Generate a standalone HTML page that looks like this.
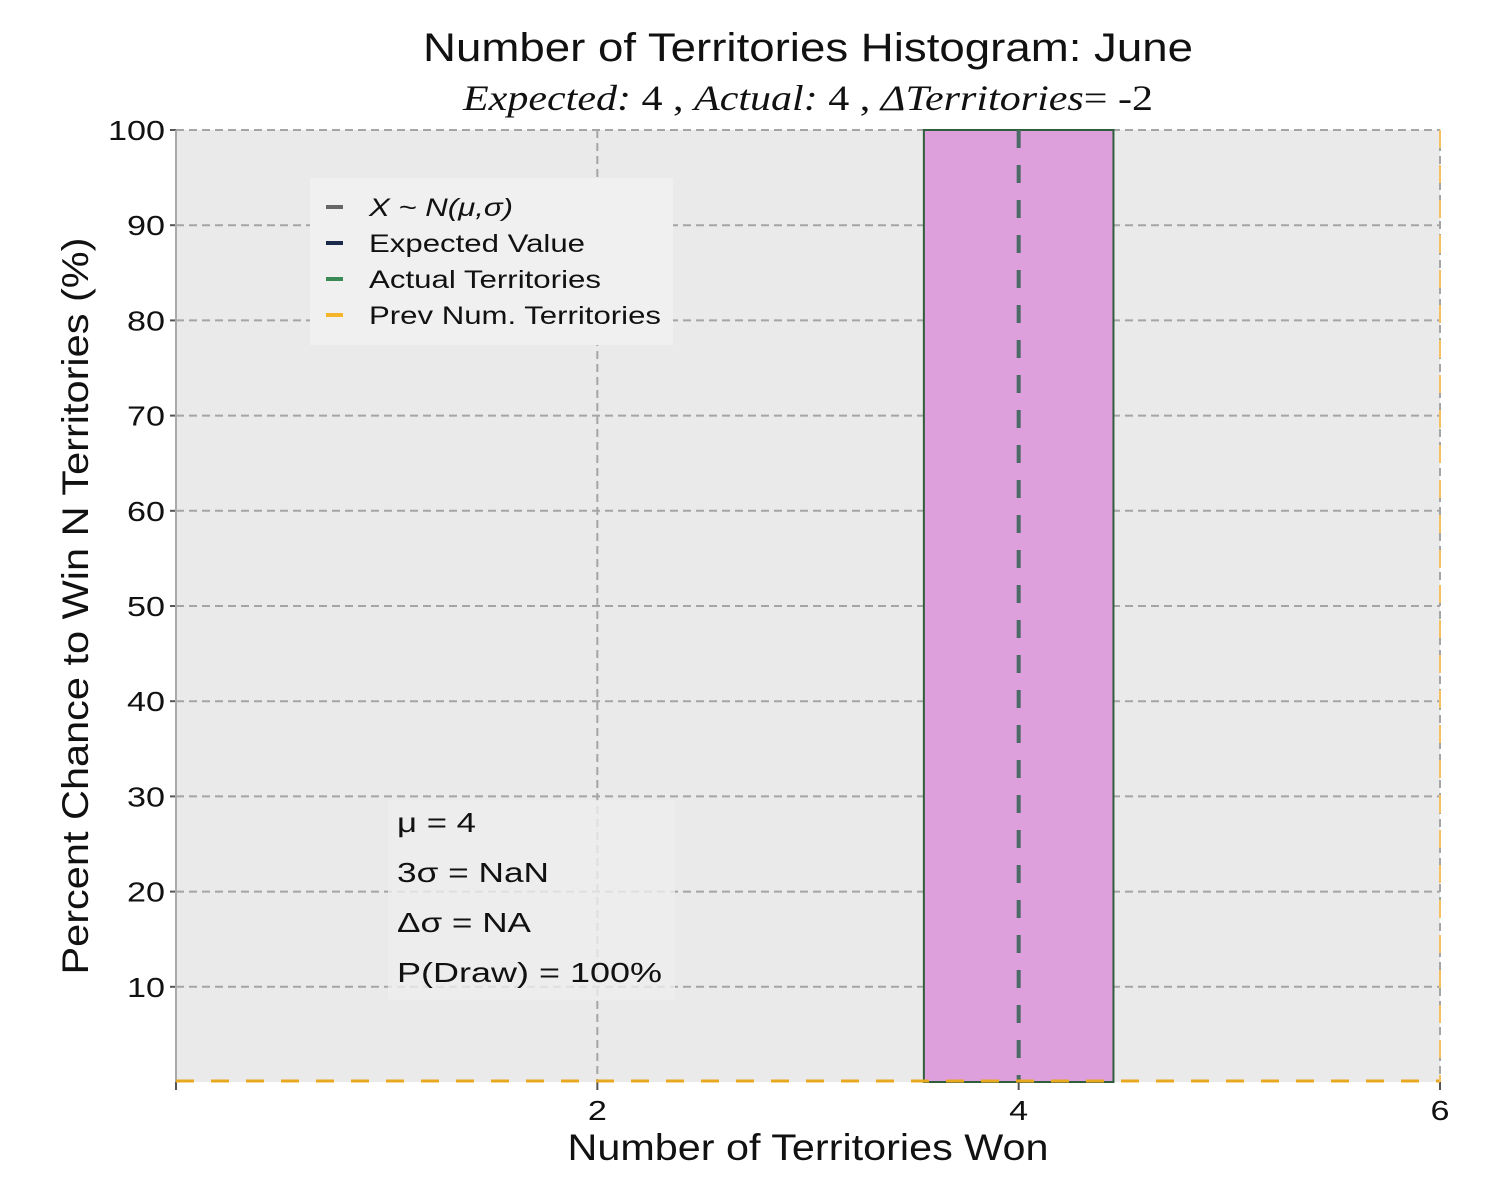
<!DOCTYPE html>
<html><head><meta charset="utf-8"><style>
body{margin:0;background:#fff}
svg{display:block}
text{font-family:"Liberation Sans",sans-serif;fill:#111}
</style></head><body>
<svg id="chart" width="1500" height="1200"></svg>
<script>
const xTicks=[2,4,6];
const yTicks=[10,20,30,40,50,60,70,80,90,100];
const binLefts=[3.55];
const binRights=[4.45];
const binValues=[100];
const expectedValue=[4];
const prevValue=[0];
const legendLabels=["X ~ N(μ,σ)","Expected Value","Actual Territories","Prev Num. Territories"];
const legendColors=["#666666","#1b2a4a","#3a8a55","#f5b52a"];
const statLines=["μ = 4","3σ = NaN","Δσ = NA","P(Draw) = 100%"];

const L=176,R=1440,T=130,B=1082,X0=0,X1=6,Y0=0,Y1=100;
const sx=v=>L+(v-X0)/(X1-X0)*(R-L);
const sy=v=>B-(v-Y0)/(Y1-Y0)*(B-T);
const svg=document.getElementById('chart');
const NS="http://www.w3.org/2000/svg";
function mk(tag,attrs,parent){const e=document.createElementNS(NS,tag);for(const k in attrs)e.setAttribute(k,attrs[k]);(parent||svg).appendChild(e);return e;}

let e=mk('rect',{x:L,y:T,width:R-L,height:B-T,fill:'#eaeaea'});



yTicks.forEach(v=>{
  let g=mk('line',{x1:L,x2:R,y1:sy(v),y2:sy(v),stroke:'#a5a5a5','stroke-width':2,'stroke-dasharray':'8,5'});
  
  
  let t=mk('line',{x1:L-6,x2:L,y1:sy(v),y2:sy(v),stroke:'#555','stroke-width':2});
  
  
  let l=mk('text',{x:L-11,y:sy(v)+10,'text-anchor':'end','font-size':28,textLength:String(v).length*19,lengthAdjust:'spacingAndGlyphs'});
  l.textContent=v;
  
  
});
[0].concat(xTicks).forEach(v=>{
  let g=mk('line',{x1:sx(v),x2:sx(v),y1:T,y2:B,stroke:'#a5a5a5','stroke-width':2,'stroke-dasharray':'8,5'});
  
  
  let t=mk('line',{x1:sx(v),x2:sx(v),y1:B,y2:B+8,stroke:'#555','stroke-width':2});
  
  
});
xTicks.forEach(v=>{
  let l=mk('text',{x:sx(v),y:B+38,'text-anchor':'middle','font-size':28,textLength:String(v).length*19,lengthAdjust:'spacingAndGlyphs'});
  l.textContent=v;
  
  
});

let sb=mk('rect',{x:388,y:800,width:287,height:200,fill:'#eeeeee','fill-opacity':0.8});


const statW=[79,152,134,265];
statLines.forEach((s,i)=>{
  let t=mk('text',{x:397,y:832+i*50,'font-size':28,textLength:statW[i],lengthAdjust:'spacingAndGlyphs'});
  t.textContent=s;
  
  
});

binValues.forEach((v,i)=>{
  let b=mk('rect',{x:sx(binLefts[i]),y:sy(v),width:sx(binRights[i])-sx(binLefts[i]),height:sy(0)-sy(v),fill:'#dda0dd',stroke:'#2e5e3a','stroke-width':2});
  
  
});
expectedValue.forEach(v=>{
  let l=mk('line',{x1:sx(v),x2:sx(v),y1:T,y2:B,stroke:'#4a6a66','stroke-width':4,'stroke-dasharray':'18,17'});
  
  
});
prevValue.forEach(v=>{
  let l=mk('line',{x1:sx(v),x2:sx(v),y1:T,y2:B,stroke:'#aaa','stroke-width':2});
  
  
});
let pb=mk('line',{x1:L,x2:R,y1:B-1,y2:B-1,stroke:'#e8a820','stroke-width':3,'stroke-dasharray':'18,17'});


let pr=mk('line',{x1:R,x2:R,y1:T,y2:B,stroke:'#f5c060','stroke-width':2,'stroke-dasharray':'18,17'});



let lg=mk('rect',{x:310,y:178,width:363,height:167,fill:'#f0f0f0'});


const legW=[144,216,232,292];
legendLabels.forEach((s,i)=>{
  let y=207+i*36;
  let m=mk('line',{x1:326,x2:343,y1:y,y2:y,stroke:legendColors[i],'stroke-width':4});
  
  
  let t=mk('text',{x:369,y:y+9,'font-size':25,textLength:legW[i],lengthAdjust:'spacingAndGlyphs'});
  if(i===0)t.setAttribute('font-style','italic');
  t.textContent=s;
  
  
});

let tt=mk('text',{x:808,y:61,'text-anchor':'middle','font-size':40,textLength:770,lengthAdjust:'spacingAndGlyphs'});
tt.textContent='Number of Territories Histogram: June';


let st=mk('text',{x:808,y:110,'text-anchor':'middle','font-size':36,textLength:690,lengthAdjust:'spacingAndGlyphs',style:'font-family:"Liberation Serif",serif'});
st.innerHTML='<tspan font-style="italic">Expected:</tspan> 4 , <tspan font-style="italic">Actual:</tspan> 4 , <tspan font-style="italic">ΔTerritories</tspan>= -2';


let xl=mk('text',{x:808,y:1160,'text-anchor':'middle','font-size':37,textLength:481,lengthAdjust:'spacingAndGlyphs'});
xl.textContent='Number of Territories Won';


let yl=mk('text',{x:0,y:0,'text-anchor':'middle','font-size':37,textLength:737,lengthAdjust:'spacingAndGlyphs',transform:'translate(88,606) rotate(-90)'});
yl.textContent='Percent Chance to Win N Territories (%)';


</script>
</body></html>
